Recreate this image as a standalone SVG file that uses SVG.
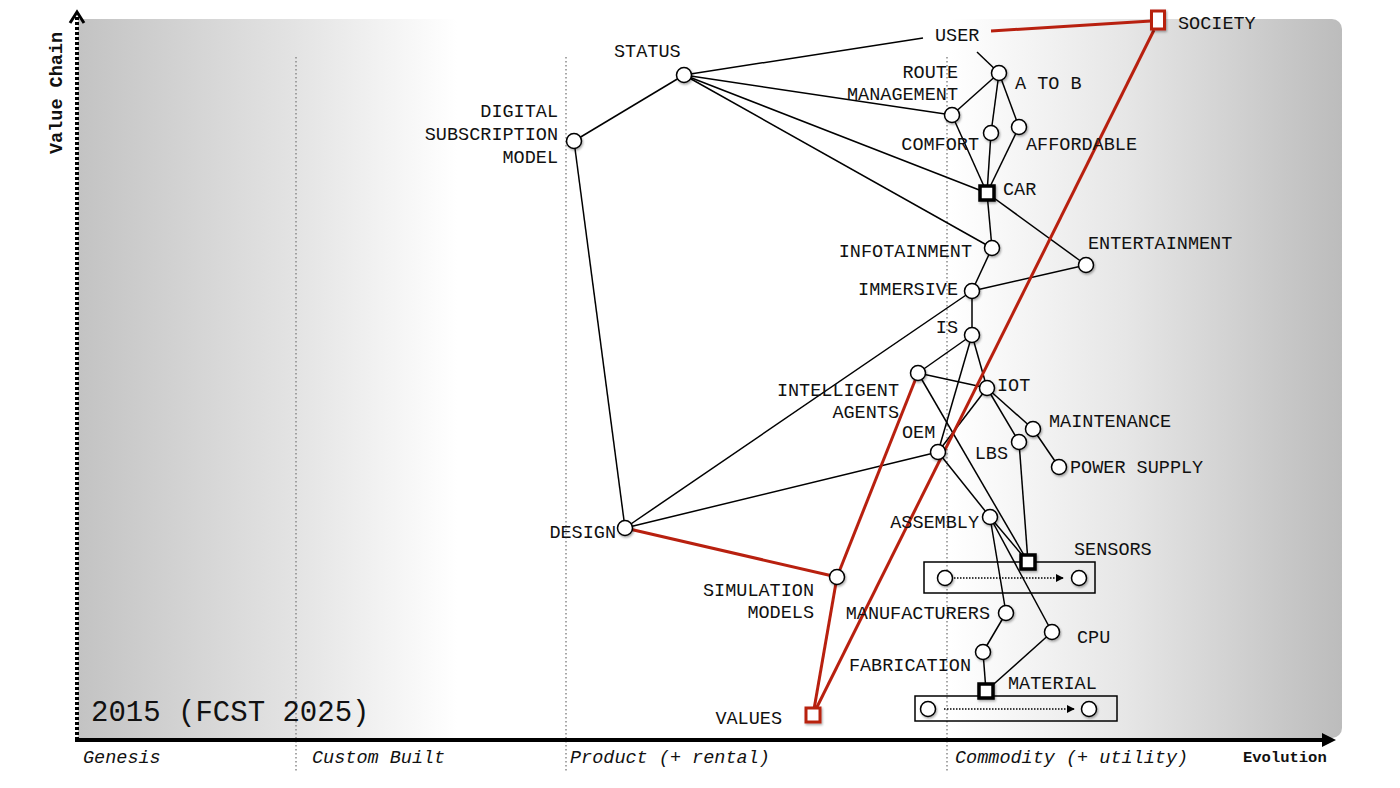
<svg xmlns="http://www.w3.org/2000/svg" width="1400" height="788" viewBox="0 0 1400 788">
<defs>
<linearGradient id="bg" x1="78" y1="0" x2="1342" y2="0" gradientUnits="userSpaceOnUse">
<stop offset="0" stop-color="#c3c3c3"/>
<stop offset="0.17" stop-color="#e3e3e3"/>
<stop offset="0.3" stop-color="#ffffff"/>
<stop offset="0.69" stop-color="#ffffff"/>
<stop offset="0.83" stop-color="#e6e6e6"/>
<stop offset="1" stop-color="#bcbcbc"/>
</linearGradient>
<filter id="sh" x="-50%" y="-50%" width="200%" height="200%">
<feDropShadow dx="1" dy="1.5" stdDeviation="1" flood-color="#000" flood-opacity="0.35"/>
</filter>
<marker id="arr" viewBox="0 0 10 10" refX="9" refY="5" markerWidth="8" markerHeight="8" markerUnits="userSpaceOnUse" orient="auto">
<path d="M0,0 L10,5 L0,10 z" fill="#000"/>
</marker>
</defs>
<style>
text{font-family:"Liberation Mono","Courier New",monospace;fill:#111;}
.lbl{font-size:18.5px;}
.end{text-anchor:end;}
.stage{font-size:18.5px;font-style:italic;}
.ax{font-size:15.5px;font-weight:bold;}
.vline{stroke:#8a8a8a;stroke-width:1.5;stroke-dasharray:1.5 2.5;fill:none;}
.c{fill:#fff;stroke:#000;stroke-width:1.5;filter:url(#sh);}
.sq{fill:#fff;stroke:#000;stroke-width:3.5;filter:url(#sh);}
.rsq{fill:#fff;stroke:#b8200f;stroke-width:3;filter:url(#sh);}
.e{stroke:#000;stroke-width:1.5;fill:none;}
.r{stroke:#b8200f;stroke-width:3;fill:none;}
.box{fill:none;stroke:#000;stroke-width:1.5;}
.dots{stroke:#000;stroke-width:1.5;stroke-dasharray:1.5 1.5;fill:none;}
</style>

<g id="background">
<path d="M78,19 H1332 A10,10 0 0 1 1342,29 V728 A10,10 0 0 1 1332,738 H78 Z" fill="url(#bg)"/>
</g>

<g id="grid">
<line class="vline" x1="296" y1="57" x2="296" y2="772"/>
<line class="vline" x1="566" y1="57" x2="566" y2="772"/>
<line class="vline" x1="947" y1="57" x2="947" y2="772"/>
</g>

<g id="axes">
<line x1="77" y1="740" x2="77" y2="16" stroke="#000" stroke-width="4" stroke-dasharray="3 2"/>
<polyline points="70,23 77,12 84,23" fill="none" stroke="#000" stroke-width="3"/>
<line x1="75" y1="740" x2="1324" y2="740" stroke="#000" stroke-width="4"/>
<path d="M1322,733 L1336,740 L1322,747 Z" fill="#000"/>
<text class="ax" transform="translate(62,154) rotate(-90)" style="font-size:18.5px">Value Chain</text>
<text class="ax" x="1243" y="762">Evolution</text>
<text class="stage" x="83" y="763">Genesis</text>
<text class="stage" x="312" y="763">Custom Built</text>
<text class="stage" x="570" y="763">Product (+ rental)</text>
<text class="stage" x="955" y="763">Commodity (+ utility)</text>
<text x="91" y="721" style="font-size:29px">2015 (FCST 2025)</text>
</g>

<g id="connectors">
<line class="e" x1="684" y1="75" x2="923" y2="38"/>
<line class="e" x1="977" y1="52" x2="999" y2="73"/>
<line class="e" x1="684" y1="75" x2="952" y2="115"/>
<line class="e" x1="684" y1="75" x2="987" y2="193"/>
<line class="e" x1="684" y1="75" x2="992" y2="248"/>
<line class="e" x1="684" y1="75" x2="574" y2="141"/>
<line class="e" x1="574" y1="141" x2="625" y2="528"/>
<line class="e" x1="999" y1="73" x2="952" y2="115"/>
<line class="e" x1="999" y1="73" x2="991" y2="133"/>
<line class="e" x1="999" y1="73" x2="1019" y2="127"/>
<line class="e" x1="952" y1="115" x2="987" y2="193"/>
<line class="e" x1="991" y1="133" x2="987" y2="193"/>
<line class="e" x1="1019" y1="127" x2="987" y2="193"/>
<line class="e" x1="987" y1="193" x2="992" y2="248"/>
<line class="e" x1="987" y1="193" x2="1086" y2="265"/>
<line class="e" x1="992" y1="248" x2="972" y2="291"/>
<line class="e" x1="972" y1="291" x2="1086" y2="265"/>
<line class="e" x1="972" y1="291" x2="972" y2="335"/>
<line class="e" x1="972" y1="291" x2="625" y2="528"/>
<line class="e" x1="972" y1="335" x2="918" y2="373"/>
<line class="e" x1="972" y1="335" x2="938" y2="452"/>
<line class="e" x1="972" y1="335" x2="987" y2="388"/>
<line class="e" x1="918" y1="373" x2="987" y2="388"/>
<line class="e" x1="918" y1="373" x2="1028" y2="562"/>
<line class="e" x1="987" y1="388" x2="938" y2="452"/>
<line class="e" x1="987" y1="388" x2="1019" y2="442"/>
<line class="e" x1="987" y1="388" x2="1033" y2="429"/>
<line class="e" x1="1033" y1="429" x2="1059" y2="467"/>
<line class="e" x1="1019" y1="442" x2="1028" y2="562"/>
<line class="e" x1="938" y1="452" x2="625" y2="528"/>
<line class="e" x1="938" y1="452" x2="990" y2="517"/>
<line class="e" x1="990" y1="517" x2="1028" y2="562"/>
<line class="e" x1="990" y1="517" x2="1006" y2="613"/>
<line class="e" x1="990" y1="517" x2="1052" y2="632"/>
<line class="e" x1="1006" y1="613" x2="983" y2="652"/>
<line class="e" x1="983" y1="652" x2="986" y2="691"/>
<line class="e" x1="1052" y1="632" x2="986" y2="691"/>
<line class="r" x1="991" y1="31" x2="1151" y2="21"/>
<line class="r" x1="1154" y1="30" x2="813" y2="715"/>
<line class="r" x1="813" y1="715" x2="837" y2="577"/>
<line class="r" x1="837" y1="577" x2="918" y2="373"/>
<line class="r" x1="625" y1="528" x2="837" y2="577"/>
</g>

<g id="sensors-evolution">
<rect class="box" x="924" y="562" width="171" height="31"/>
<circle class="c" cx="945" cy="578" r="7.5"/>
<circle class="c" cx="1079" cy="578" r="7.5"/>
<line class="dots" x1="954" y1="578" x2="1063" y2="578" marker-end="url(#arr)"/>
</g>
<g id="material-evolution">
<rect class="box" x="915" y="696" width="202" height="25"/>
<circle class="c" cx="928" cy="709" r="7.5"/>
<circle class="c" cx="1089" cy="709" r="7.5"/>
<line class="dots" x1="944" y1="709" x2="1074" y2="709" marker-end="url(#arr)"/>
</g>

<g id="user"><text class="lbl" x="935" y="41">USER</text></g>
<g id="society"><rect class="rsq" x="1151.5" y="11" width="13" height="18"/><text class="lbl" x="1178" y="29">SOCIETY</text></g>
<g id="status"><circle class="c" cx="684" cy="75" r="7.5"/><text class="lbl" x="614" y="57">STATUS</text></g>
<g id="digital-subscription-model"><circle class="c" cx="574" cy="141" r="7.5"/><text class="lbl end" x="558" y="117">DIGITAL</text><text class="lbl end" x="558" y="140">SUBSCRIPTION</text><text class="lbl end" x="558" y="163">MODEL</text></g>
<g id="route-management"><circle class="c" cx="952" cy="115" r="7.5"/><text class="lbl end" x="958" y="78">ROUTE</text><text class="lbl end" x="958" y="100">MANAGEMENT</text></g>
<g id="a-to-b"><circle class="c" cx="999" cy="73" r="7.5"/><text class="lbl" x="1015" y="89">A TO B</text></g>
<g id="comfort"><circle class="c" cx="991" cy="133" r="7.5"/><text class="lbl end" x="979" y="150">COMFORT</text></g>
<g id="affordable"><circle class="c" cx="1019" cy="127" r="7.5"/><text class="lbl" x="1026" y="150">AFFORDABLE</text></g>
<g id="car"><rect class="sq" x="980" y="186" width="14" height="14"/><text class="lbl" x="1003" y="195">CAR</text></g>
<g id="infotainment"><circle class="c" cx="992" cy="248" r="7.5"/><text class="lbl end" x="972" y="257">INFOTAINMENT</text></g>
<g id="entertainment"><circle class="c" cx="1086" cy="265" r="7.5"/><text class="lbl" x="1088" y="249">ENTERTAINMENT</text></g>
<g id="immersive"><circle class="c" cx="972" cy="291" r="7.5"/><text class="lbl end" x="958" y="295">IMMERSIVE</text></g>
<g id="is"><circle class="c" cx="972" cy="335" r="7.5"/><text class="lbl end" x="958" y="333">IS</text></g>
<g id="intelligent-agents"><circle class="c" cx="918" cy="373" r="7.5"/><text class="lbl end" x="899" y="396">INTELLIGENT</text><text class="lbl end" x="899" y="418">AGENTS</text></g>
<g id="iot"><circle class="c" cx="987" cy="388" r="7.5"/><text class="lbl" x="997" y="391">IOT</text></g>
<g id="maintenance"><circle class="c" cx="1033" cy="429" r="7.5"/><text class="lbl" x="1049" y="427">MAINTENANCE</text></g>
<g id="lbs"><circle class="c" cx="1019" cy="442" r="7.5"/><text class="lbl end" x="1008" y="459">LBS</text></g>
<g id="power-supply"><circle class="c" cx="1059" cy="467" r="7.5"/><text class="lbl" x="1070" y="473">POWER SUPPLY</text></g>
<g id="oem"><circle class="c" cx="938" cy="452" r="7.5"/><text class="lbl" x="902" y="438">OEM</text></g>
<g id="design"><circle class="c" cx="625" cy="528" r="7.5"/><text class="lbl end" x="616" y="538">DESIGN</text></g>
<g id="simulation-models"><circle class="c" cx="837" cy="577" r="7.5"/><text class="lbl end" x="814" y="596">SIMULATION</text><text class="lbl end" x="814" y="618">MODELS</text></g>
<g id="values"><rect class="rsq" x="806" y="708" width="14" height="14"/><text class="lbl end" x="782" y="724">VALUES</text></g>
<g id="assembly"><circle class="c" cx="990" cy="517" r="7.5"/><text class="lbl end" x="979" y="528">ASSEMBLY</text></g>
<g id="sensors"><rect class="sq" x="1021" y="555" width="14" height="14"/><text class="lbl" x="1074" y="555">SENSORS</text></g>
<g id="manufacturers"><circle class="c" cx="1006" cy="613" r="7.5"/><text class="lbl end" x="990" y="619">MANUFACTURERS</text></g>
<g id="cpu"><circle class="c" cx="1052" cy="632" r="7.5"/><text class="lbl" x="1077" y="643">CPU</text></g>
<g id="fabrication"><circle class="c" cx="983" cy="652" r="7.5"/><text class="lbl end" x="971" y="671">FABRICATION</text></g>
<g id="material"><rect class="sq" x="979" y="684" width="14" height="14"/><text class="lbl" x="1008" y="689">MATERIAL</text></g>
</svg>
